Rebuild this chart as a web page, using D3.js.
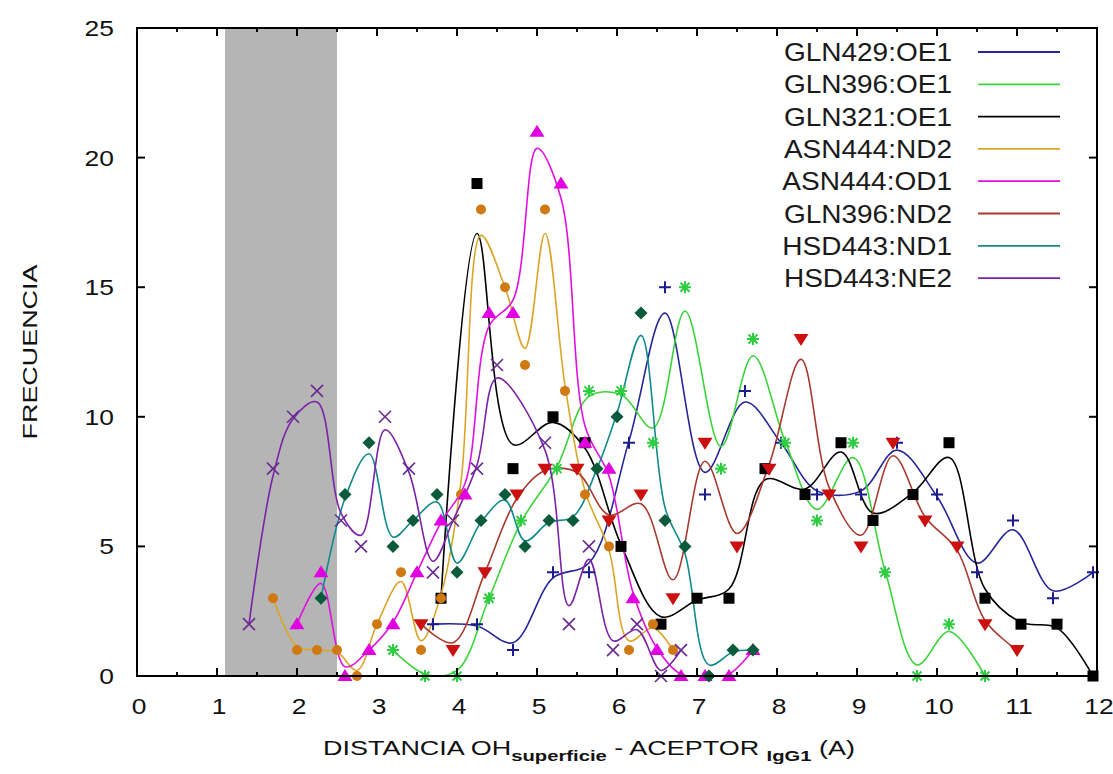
<!DOCTYPE html>
<html><head><meta charset="utf-8">
<script src="https://cdn.jsdelivr.net/npm/d3@7"></script>
<style>body{margin:0;background:#fff}svg{display:block}text{font-family:"Liberation Sans",Arial,sans-serif}</style>
</head><body><svg id="c" width="1113" height="774"></svg>
<script>
// ---- data ----
const seriesNames = ["GLN429:OE1","GLN396:OE1","GLN321:OE1","ASN444:ND2","ASN444:OD1","GLN396:ND2","HSD443:ND1","HSD443:NE2"];
const gln429X = [3.7,4.25,4.7,5.2,5.65,6.15,6.6,7.1,7.6,8.05,8.5,9.05,9.5,10.0,10.5,10.95,11.45,11.95];
const gln429Y = [2,2,1,4,4,9,15,7,11,9,7,7,9,7,4,6,3,4];
const gln396oX = [3.2,3.6,4.0,4.4,4.8,5.25,5.65,6.05,6.45,6.85,7.3,7.7,8.1,8.5,8.95,9.35,9.75,10.15,10.6];
const gln396oY = [1,0,0,3,6,8,11,11,9,15,8,13,9,6,9,4,0,2,0];
const gln321X = [3.8,4.25,4.7,5.2,5.6,6.05,6.55,7.0,7.4,7.85,8.35,8.8,9.2,9.7,10.15,10.6,11.05,11.5,11.95];
const gln321Y = [3,19,8,10,9,5,2,3,3,8,7,9,6,7,9,3,2,2,0];
const asnNdX = [1.7,2.0,2.25,2.5,2.75,3.0,3.3,3.55,3.8,4.05,4.3,4.6,4.85,5.1,5.35,5.6,5.9,6.15,6.45,6.7];
const asnNdY = [3,1,1,1,0,2,4,1,3,7,18,15,12,18,11,7,5,1,2,1];
const asnOdX = [2.0,2.3,2.6,2.9,3.2,3.5,3.8,4.1,4.4,4.7,5.0,5.3,5.6,5.9,6.2,6.5,6.8,7.1,7.4,7.7];
const asnOdY = [2,4,0,1,2,4,6,7,14,14,21,19,9,8,3,1,0,0,0,1];
const gln396nX = [3.55,3.95,4.35,4.75,5.1,5.5,5.9,6.3,6.7,7.1,7.5,7.9,8.3,8.65,9.05,9.45,9.85,10.25,10.6,11.0];
const gln396nY = [2,1,4,7,8,8,6,7,3,9,5,8,13,7,5,9,6,5,2,1];
const hsdNd1X = [2.3,2.6,2.9,3.2,3.45,3.75,4.0,4.3,4.6,4.85,5.15,5.45,5.75,6.0,6.3,6.6,6.85,7.15,7.45,7.7];
const hsdNd1Y = [3,7,9,5,6,7,4,6,7,5,6,6,8,10,14,6,5,0,1,1];
const hsdNe2X = [1.4,1.7,1.95,2.25,2.55,2.8,3.1,3.4,3.7,3.95,4.25,4.5,5.1,5.4,5.65,5.95,6.25,6.55,6.8];
const hsdNe2Y = [2,8,10,11,6,5,10,8,4,6,8,12,9,2,5,1,2,0,1];
const xTicks = [0,1,2,3,4,5,6,7,8,9,10,11,12];
const yTicks = [0,5,10,15,20,25];
const band = [1.1, 2.5];

const lineColors = ["#26269a","#3ad43a","#000000","#dba628","#e010e0","#a83a30","#108a8a","#7a22a8"];
const markColors = ["#1c1c8c","#2ecc40","#000000","#d07812","#e000e0","#cc1010","#0a5a3c","#6a2a90"];
const markTypes = ["plus","star","square","circle","triUp","triDown","diamond","cross"];
const xs = [gln429X,gln396oX,gln321X,asnNdX,asnOdX,gln396nX,hsdNd1X,hsdNe2X];
const ys = [gln429Y,gln396oY,gln321Y,asnNdY,asnOdY,gln396nY,hsdNd1Y,hsdNe2Y];

// ---- layout ----
const svg = d3.select("#c");
const L=137,R=1097,T=28,B=676;
const x = d3.scaleLinear().domain([0,12]).range([L,R]);
const y = d3.scaleLinear().domain([0,25]).range([B,T]);

svg.append("rect").attr("x",x(band[0])).attr("y",T).attr("width",x(band[1])-x(band[0])).attr("height",B-T).attr("fill","#b5b5b5");

// light smoothing, like gnuplot approximation splines
function smooth(v){
  const w=12;
  return v.map((d,i)=> (i===0||i===v.length-1)? d : (v[i-1]+w*d+v[i+1])/(w+2));
}
const plot = svg.append("g");
seriesNames.forEach((name,si)=>{
  const sy = smooth(ys[si]);
  const pts = xs[si].map((d,i)=>[d, sy[i]]);
  const line = d3.line().x(d=>x(d[0])).y(d=>y(Math.max(d[1],-0.3))).curve(d3.curveCatmullRom.alpha(0.5));
  plot.append("path").attr("d",line(pts)).attr("fill","none").attr("stroke",lineColors[si]).attr("stroke-width",1.6);
});
function marker(g,type,cx,cy,col){
  const s=6;
  if(type==="plus"){
    g.append("path").attr("d",`M${cx-s},${cy}H${cx+s}M${cx},${cy-s}V${cy+s}`).attr("stroke",col).attr("stroke-width",2);
  } else if(type==="cross"){
    g.append("path").attr("d",`M${cx-s},${cy-s}L${cx+s},${cy+s}M${cx-s},${cy+s}L${cx+s},${cy-s}`).attr("stroke",col).attr("stroke-width",1.6);
  } else if(type==="star"){
    const k=s*0.75;
    g.append("path").attr("d",`M${cx-s},${cy}H${cx+s}M${cx},${cy-s}V${cy+s}M${cx-k},${cy-k}L${cx+k},${cy+k}M${cx-k},${cy+k}L${cx+k},${cy-k}`).attr("stroke",col).attr("stroke-width",2);
  } else if(type==="square"){
    g.append("rect").attr("x",cx-5.5).attr("y",cy-5.5).attr("width",11).attr("height",11).attr("fill",col);
  } else if(type==="circle"){
    g.append("circle").attr("cx",cx).attr("cy",cy).attr("r",5).attr("fill",col);
  } else if(type==="triUp"){
    g.append("path").attr("d",`M${cx},${cy-7}L${cx+7.5},${cy+5}L${cx-7.5},${cy+5}Z`).attr("fill",col);
  } else if(type==="triDown"){
    g.append("path").attr("d",`M${cx},${cy+7}L${cx+7.5},${cy-5}L${cx-7.5},${cy-5}Z`).attr("fill",col);
  } else if(type==="diamond"){
    g.append("path").attr("d",`M${cx},${cy-6.5}L${cx+6.5},${cy}L${cx},${cy+6.5}L${cx-6.5},${cy}Z`).attr("fill",col);
  }
}
const mk = svg.append("g");
seriesNames.forEach((name,si)=>{
  xs[si].forEach((d,i)=>marker(mk,markTypes[si],x(d),y(ys[si][i]),markColors[si]));
});

// ---- frame and ticks ----
const fr = svg.append("g").attr("stroke","#000");
fr.append("rect").attr("x",L).attr("y",T).attr("width",R-L).attr("height",B-T).attr("fill","none").attr("stroke-width",2);
d3.range(0,12.01,0.5).forEach(v=>{
  const len = Number.isInteger(v)?8:4;
  fr.append("line").attr("x1",x(v)).attr("x2",x(v)).attr("y1",B).attr("y2",B-len).attr("stroke-width",2);
  fr.append("line").attr("x1",x(v)).attr("x2",x(v)).attr("y1",T).attr("y2",T+len).attr("stroke-width",2);
});
yTicks.forEach(v=>{
  fr.append("line").attr("x1",L).attr("x2",L+8).attr("y1",y(v)).attr("y2",y(v)).attr("stroke-width",2);
  fr.append("line").attr("x1",R).attr("x2",R-8).attr("y1",y(v)).attr("y2",y(v)).attr("stroke-width",2);
});
// stretch helper: widen text horizontally like the reference
function stretch(sel,f){
  sel.each(function(){ const n=this.getComputedTextLength(); d3.select(this).attr("textLength",n*f).attr("lengthAdjust","spacingAndGlyphs"); });
}
const lab = svg.append("g").attr("fill","#111").attr("font-size",22);
xTicks.forEach(v=>lab.append("text").attr("class","xt").attr("x",x(v)+2).attr("y",714).attr("text-anchor","middle").text(v));
yTicks.forEach(v=>lab.append("text").attr("class","yt").attr("x",114).attr("y",y(v)+8).attr("text-anchor","end").text(v));
stretch(lab.selectAll("text"),1.2);

// axis titles
const yt = svg.append("text").attr("transform","translate(37,352) rotate(-90)").attr("text-anchor","middle").attr("font-size",20).attr("fill","#111").text("FRECUENCIA");
yt.attr("textLength",175).attr("lengthAdjust","spacingAndGlyphs");
const xt = svg.append("text").attr("x",589).attr("y",755).attr("text-anchor","middle").attr("font-size",20).attr("fill","#111");
xt.append("tspan").text("DISTANCIA OH");
xt.append("tspan").attr("font-size",15).attr("font-weight","bold").attr("dy",6).text("superficie");
xt.append("tspan").attr("dy",-6).text(" - ACEPTOR ");
xt.append("tspan").attr("font-size",15).attr("font-weight","bold").attr("dy",6).text("IgG1");
xt.append("tspan").attr("dy",-6).text(" (A)");
xt.attr("textLength",532).attr("lengthAdjust","spacingAndGlyphs");

// legend
const lg = svg.append("g");
seriesNames.forEach((name,i)=>{
  const cy = 52 + i*32.3;
  lg.append("text").attr("x",952).attr("y",cy+9).attr("text-anchor","end").attr("font-size",25).attr("fill","#1a1a1a").text(name);
  lg.append("line").attr("x1",978).attr("x2",1060).attr("y1",cy).attr("y2",cy).attr("stroke",lineColors[i]).attr("stroke-width",1.8);
});
stretch(lg.selectAll("text"),1.12);
</script></body></html>
